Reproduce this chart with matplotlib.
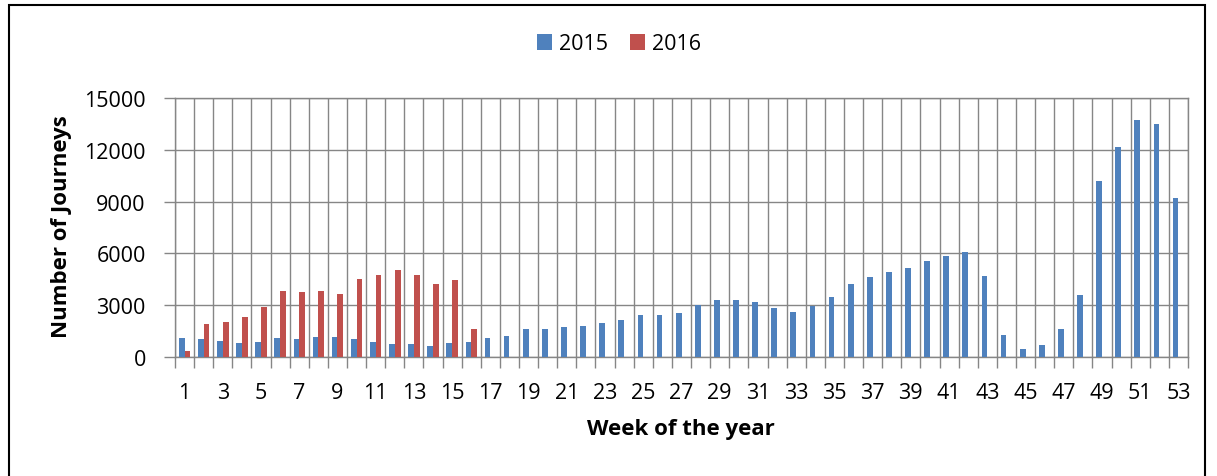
import matplotlib
matplotlib.use("Agg")
import matplotlib.pyplot as plt
from matplotlib.patches import Rectangle
import numpy as np

# weekly journeys
weeks = list(range(1, 54))
journeys_2015 = [1120, 1070, 950, 810, 850, 1120, 1050, 1180, 1140, 1050,
                 890, 780, 740, 660, 830, 890, 1090, 1220, 1630, 1630,
                 1710, 1820, 1960, 2170, 2420, 2460, 2560, 3000, 3280, 3280,
                 3160, 2830, 2580, 2950, 3450, 4240, 4650, 4900, 5170, 5580,
                 5850, 6100, 4710, 1280, 480, 720, 1610, 3590, 10210, 12190,
                 13740, 13510, 9190]
journeys_2016 = [350, 1940, 2030, 2330, 2870, 3820, 3740, 3820, 3660, 4520,
                 4770, 5020, 4750, 4210, 4440, 1630]
years = ["2015", "2016"]
yticks = [0, 3000, 6000, 9000, 12000, 15000]

plt.rcParams['font.family'] = ['Open Sans', 'DejaVu Sans']
grid_col = '#868686'
W, H = 1217, 477

fig = plt.figure(figsize=(W / 100, H / 100), dpi=100)
ax = fig.add_axes([175 / W, 1 - 358 / H, 1013 / W, 259 / H])

x = np.array(weeks)
w = 0.3
x16 = np.arange(1, len(journeys_2016) + 1)
ax.bar(x - w / 2, journeys_2015, width=w, color='#4F81BD', label=years[0], zorder=3)
ax.bar(x16 + w / 2, journeys_2016, width=w, color='#C0504D', label=years[1], zorder=3)

ax.set_xlim(0.5, 53.5)
ax.set_ylim(0, 15000)
ax.set_yticks(yticks)
ax.set_xticks(weeks[::2])
ax.set_xticks(np.arange(0.5, 54.0, 1.0), minor=True)
ax.tick_params(axis='x', which='major', length=0, pad=18, labelsize=15.5)
ax.tick_params(axis='x', which='minor', length=8, color=grid_col, width=1.0, direction='out')
ax.tick_params(axis='y', length=8, color=grid_col, width=1.0, labelsize=15.5, pad=13)

ax.grid(True, axis='y', which='major', color=grid_col, lw=1.0, zorder=0)
ax.grid(True, axis='x', which='minor', color=grid_col, lw=1.0, zorder=0)
ax.set_axisbelow(True)
for s in ax.spines.values():
    s.set_color(grid_col)
    s.set_linewidth(1.0)

fig.text(61.5 / W, 1 - 227 / H, 'Number of Journeys', rotation=90,
         ha='center', va='center', fontsize=16, fontweight='bold')
fig.text(681 / W, 1 - 430 / H, 'Week of the year',
         ha='center', va='center', fontsize=16, fontweight='bold')

ax.legend(loc='center', bbox_to_anchor=(619 / W, 1 - 45 / H),
          bbox_transform=fig.transFigure, ncol=2, frameon=False,
          fontsize=15.5, handlelength=0.7, handleheight=0.7,
          handletextpad=0.35, columnspacing=1.0)

# outer border of the chart object
fig.add_artist(Rectangle((8.5 / W, -0.2), 1196 / W, 1.2 - 5.5 / H,
                         transform=fig.transFigure, fill=False,
                         edgecolor='black', lw=1.5))

fig.savefig('out.png', dpi=100)
